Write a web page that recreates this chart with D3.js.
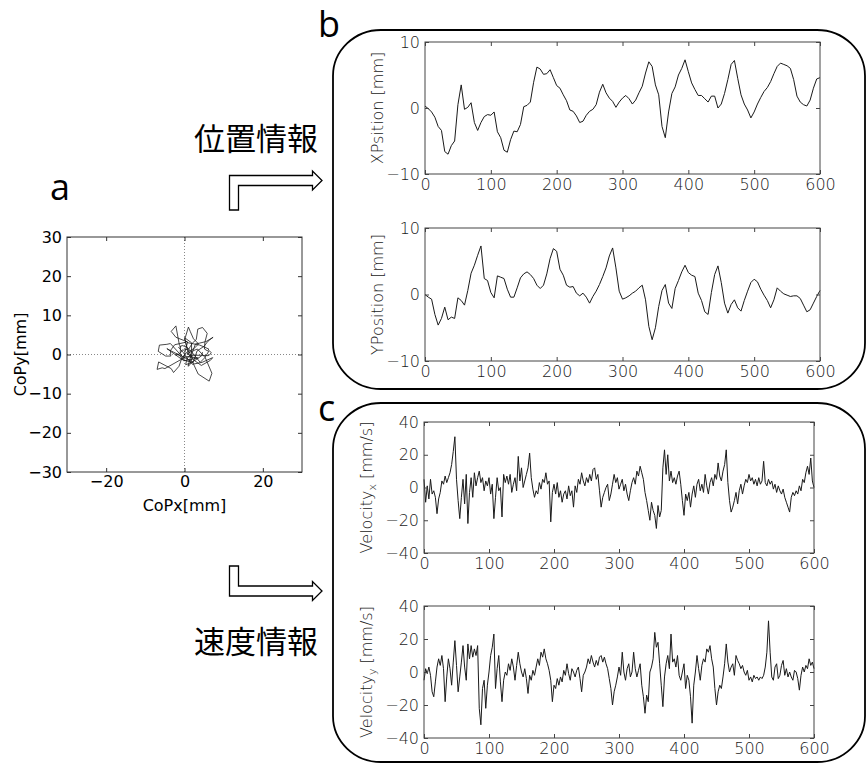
<!DOCTYPE html>
<html>
<head>
<meta charset="utf-8">
<script src="https://cdn.jsdelivr.net/npm/d3@7"></script>
<style>
  html, body { margin: 0; padding: 0; background: #fff; }
  svg { display: block; }
</style>
</head>
<body>
<svg id="fig" width="867" height="763"></svg>
<script>
// ---- tick values ----
const timeTicks = [0, 100, 200, 300, 400, 500, 600];
const posTicks = [-10, 0, 10];
const velTicks = [-40, -20, 0, 20, 40];
const copTicksX = [-20, 0, 20];
const copTicksY = [-30, -20, -10, 0, 10, 20, 30];

// ---- sampling interval of each series (s) ----
const posStep = 5;
const velStep = 2.5;

// ---- centre-of-pressure position, x (mm), one value every 5 s ----
const xPosition = [
  0.3, -0.1, -0.6, -1.4, -2.8, -3.4, -6.6, -7.0, -5.7, -5.0,
  0.5, 3.5, -0.2, 0.1, 0.8, -2.2, -3.4, -2.2, -1.3, -1.0,
  -1.1, -0.6, -3.6, -4.5, -6.4, -6.7, -4.8, -3.5, -3.6, -2.5,
  0.2, 0.4, 0.9, 3.9, 6.2, 5.9, 5.1, 5.2, 5.8, 4.6,
  3.4, 3.0, 2.0, 1.1, -0.3, -0.5, -1.2, -2.2, -2.0, -1.1,
  -0.5, -0.2, 0.5, 2.4, 3.6, 2.3, 1.5, 1.0, 0.1, 0.9,
  1.5, 1.9, 1.4, 0.6, 1.2, 2.3, 3.3, 5.3, 7.0, 6.3,
  3.5, 2.0, -2.8, -4.5, -0.6, 2.2, 3.2, 5.0, 6.0, 7.3,
  5.5, 3.8, 2.8, 1.9, 1.9, 1.4, 0.9, 1.8, 1.8, 0.0,
  0.6, 2.2, 4.3, 6.6, 7.2, 4.5, 2.0, 0.6, -0.3, -1.5,
  -0.6, 0.6, 1.6, 2.5, 3.1, 4.0, 5.2, 6.3, 6.8, 6.6,
  6.4, 6.0, 4.3, 1.8, 0.9, 0.5, 0.3, 1.2, 3.0, 4.4,
  4.6
];

// ---- centre-of-pressure position, y (mm), one value every 5 s ----
const yPosition = [
  0.0, -0.4, -0.7, -3.0, -4.6, -3.6, -1.9, -3.8, -3.4, -3.6,
  -0.5, -0.9, -1.6, 0.6, 3.2, 4.4, 5.9, 7.3, 2.4, 2.1,
  0.3, -0.5, 2.8, 2.6, 2.4, 0.8, -0.4, -0.4, 1.0, 2.5,
  3.1, 3.4, 3.0, 2.4, 1.4, 0.9, 1.4, 3.1, 5.4, 6.9,
  6.5, 3.8, 2.9, 1.4, 1.1, 1.2, 0.2, -0.2, 0.2, -0.4,
  -1.3, -0.3, 0.5, 1.5, 2.7, 4.0, 5.8, 7.0, 4.0, 0.5,
  -0.7, -0.5, -0.2, 0.2, 0.5, 1.0, 1.4, -0.8, -4.8, -6.8,
  -5.0, -1.8, 0.6, 1.5, -1.3, -2.1, 0.9, 2.1, 3.4, 4.4,
  3.3, 2.9, 2.7, 0.2, -0.9, -2.6, -3.0, 0.3, 3.0, 4.3,
  1.8, -1.3, -2.8, -1.5, -0.8, -2.0, -2.5, -0.9, 0.5, 1.8,
  2.3, 1.9, 0.8, -0.1, -0.9, -2.0, -0.8, 1.0, 0.5, 0.1,
  -0.1, -0.3, -0.2, -0.2, -0.6, -1.6, -2.6, -2.3, -1.3, -0.3,
  0.6
];

// ---- velocity, x (mm/s), one value every 2.5 s ----
const velocityX = [
  5, -9, 1, -7, 5, -4, -2, -6, -16, -7,
  -3, 4, 2, 7, 3, 6, 9, 14, 22, 31,
  5, -8, -19, -6, 5, -10, 8, -22, -3, 6,
  -6, 9, 1, 6, 10, 3, 6, -2, 4, 1,
  6, -4, 2, -19, -6, 6, -2, 0, -18, 8,
  3, 7, 2, 8, -3, 2, 6, -2, 19, 4,
  12, 0, 4, 8, 12, 21, 6, -1, -6, -2,
  -4, 3, -1, 5, 3, 9, 2, 4, -21, -3,
  2, -4, 3, -6, -2, -9, -4, -2, -7, 1,
  -5, -2, -12, 1, -3, 5, 2, 9, 4, 1,
  6, 3, 8, 4, 11, 12, 5, 8, -2, -12,
  -6, -3, 0, 2, -8, -4, 2, 8, 3, 6,
  -1, 2, 5, -2, 2, -4, -8, -2, 3, 6,
  2, 10, 7, 13, 9, 5, -3, -8, -14, -20,
  -9, -14, -17, -25, -11, -18, -14, 12, 23, 8,
  20, 4, 10, 3, 6, 2, 7, 10, 2, -8,
  -17, -4, -8, -3, -12, -4, 1, -6, 2, 5,
  -2, 2, -3, 8, 1, -4, 3, 6, 1, 8,
  5, 15, 7, 4, 10, 14, 23, 3, -8, -15,
  -12, -8, -3, -10, -2, 2, -4, 1, 5, 3,
  8, 4, 6, 2, 5, 1, 6, 2, 4, 16,
  3, 1, 5, 2, 4, -1, 2, -3, 1, -2,
  -4, -1, -6, -9, -12, -15, -6, -3, -5, -2,
  -4, 1, -2, 5, 3, 9, 13, 8, 18, 4,
  0
];

// ---- velocity, y (mm/s), one value every 2.5 s ----
const velocityY = [
  -5, 2, -1, 3, -2, -12, -15, -6, 3, 8,
  4, 10, 2, -18, -3, 8, 2, -8, 6, 19,
  4, -12, -3, 6, 16, 3, -5, 17, 8, 16,
  9, 14, 10, 16, -22, -32, -10, -5, -22, -8,
  0, 10, 15, 23, -10, 2, 10, -6, -18, -5,
  0, -2, 5, 1, 8, 3, -5, 4, 12, 5,
  0, -3, 2, -4, -13, -2, -5, 1, -2, 3,
  8, 4, 12, 9, 14, 8, 5, 1, -5, -18,
  -8, -10, -4, -8, -3, -6, 1, -2, 5, -1,
  -5, 2, 0, -3, 1, 3, -4, -12, -2, 0,
  3, 8, 5, 10, 6, 3, 7, 4, 9, 10,
  6, 9, 5, 2, -4, -10, -20, -12, -8, -3,
  3, -2, 12, 0, -5, 2, 5, -3, 0, 12,
  2, -3, 1, 5, -8, -15, -25, -14, -18, 0,
  3, 8, 24, 15, 18, 5, -8, -21, -3, 5,
  10, 2, 23, 6, 8, 3, 10, -2, -5, 0,
  5, -10, -2, -5, -15, -31, -8, 0, 10, 2,
  -5, 4, 8, 6, 14, 12, 16, 8, 3, -10,
  -20, -12, -8, -10, -3, 5, 17, 6, 0, 3,
  5, -2, 10, 7, 5, 2, 4, 0, -2, 1,
  -5, -3, -6, -2, -4, -3, -5, -3, -4, -2,
  3, 12, 31, 12, -3, -5, 3, 5, -4, -2,
  4, 7, -2, 2, -3, 0, -3, -5, 1, 0,
  -4, -11, -2, 3, 0, 4, 2, 8, 4, 6,
  2
];

const svg = d3.select("#fig");
const tickFont = "'DejaVu Sans', 'Liberation Sans', sans-serif";
const headFont = "'Open Sans', 'Noto Sans', sans-serif";
const cjkFont = "'Noto Sans CJK JP', 'Noto Sans CJK SC', sans-serif";

// Box with inward ticks on all four sides, labels on left and bottom only.
function framedAxes(g, x, y, xTicks, yTicks, opts) {
  const [x0, x1] = x.range();
  const [y1, y0] = y.range();
  const axes = [
    g.append("g").attr("transform", `translate(0,${y1})`)
      .call(d3.axisBottom(x).tickValues(xTicks).tickSizeInner(-4).tickSizeOuter(0).tickPadding(opts.padX)),
    g.append("g").attr("transform", `translate(0,${y0})`)
      .call(d3.axisTop(x).tickValues(xTicks).tickSizeInner(-4).tickSizeOuter(0).tickFormat("")),
    g.append("g").attr("transform", `translate(${x0},0)`)
      .call(d3.axisLeft(y).tickValues(yTicks).tickSizeInner(-4).tickSizeOuter(0).tickPadding(opts.padY)),
    g.append("g").attr("transform", `translate(${x1},0)`)
      .call(d3.axisRight(y).tickValues(yTicks).tickSizeInner(-4).tickSizeOuter(0).tickFormat(""))
  ];
  axes.forEach(a => {
    a.select(".domain").remove();
    a.attr("font-family", opts.font).attr("font-size", opts.size).attr("font-weight", opts.weight);
    a.selectAll(".tick line").attr("stroke", opts.stroke).attr("stroke-width", 1);
    a.selectAll(".tick text").attr("fill", opts.textFill);
  });
  g.append("rect")
    .attr("x", x0).attr("y", y0)
    .attr("width", x1 - x0).attr("height", y1 - y0)
    .attr("fill", "none").attr("stroke", opts.stroke).attr("stroke-width", 1);
}

// One time-series plot (position or velocity).
function tracePanel(cfg) {
  const g = svg.append("g");
  const x = d3.scaleLinear().domain([0, 600]).range([cfg.left, cfg.left + cfg.width]);
  const y = d3.scaleLinear().domain(cfg.yDomain).range([cfg.top + cfg.height, cfg.top]);

  g.append("path")
    .datum(cfg.values)
    .attr("fill", "none")
    .attr("stroke", "#1a1a1a")
    .attr("stroke-width", 1)
    .attr("stroke-linejoin", "round")
    .attr("d", d3.line().x((d, i) => x(i * cfg.step)).y(d => y(d)));

  framedAxes(g, x, y, timeTicks, cfg.yTicks, {
    padX: 5, padY: 5, font: tickFont, size: 16, weight: 200, stroke: "#444", textFill: "#1a1a1a"
  });

  const lab = g.append("text")
    .attr("transform", `translate(${cfg.labelX},${cfg.top + cfg.height / 2}) rotate(-90)`)
    .attr("text-anchor", "middle")
    .attr("font-family", tickFont)
    .attr("font-weight", 200)
    .attr("font-size", 16)
    .attr("fill", "#1a1a1a");
  lab.append("tspan").text(cfg.label);
  if (cfg.sub) {
    lab.append("tspan").attr("font-size", 11).attr("dy", 4).text(cfg.sub);
    lab.append("tspan").attr("dy", -4).text(" " + cfg.unit);
  }
}

// ---- rounded frames around groups b and c ----
svg.append("rect").attr("x", 333).attr("y", 30).attr("width", 532).attr("height", 359)
  .attr("rx", 48).attr("ry", 46)
  .attr("fill", "none").attr("stroke", "#000").attr("stroke-width", 1.8);
svg.append("rect").attr("x", 333).attr("y", 403).attr("width", 532).attr("height", 359)
  .attr("rx", 48).attr("ry", 46)
  .attr("fill", "none").attr("stroke", "#000").attr("stroke-width", 1.8);

// ---- b: position traces ----
tracePanel({ left: 425, top: 42, width: 395, height: 132, yDomain: [-10, 10], yTicks: posTicks,
  values: xPosition, step: posStep, label: "XPsition [mm]", labelX: 383 });
tracePanel({ left: 425, top: 228, width: 395, height: 133, yDomain: [-10, 10], yTicks: posTicks,
  values: yPosition, step: posStep, label: "YPosition [mm]", labelX: 383 });

// ---- c: velocity traces ----
tracePanel({ left: 424, top: 422, width: 390, height: 131, yDomain: [-40, 40], yTicks: velTicks,
  values: velocityX, step: velStep, label: "Velocity", sub: "x", unit: "[mm/s]", labelX: 372 });
tracePanel({ left: 424, top: 606, width: 390, height: 132, yDomain: [-40, 40], yTicks: velTicks,
  values: velocityY, step: velStep, label: "Velocity", sub: "y", unit: "[mm/s]", labelX: 372 });

// ---- a: stabilogram (CoPx vs CoPy) ----
{
  const g = svg.append("g");
  const x = d3.scaleLinear().domain([-30, 30]).range([67, 302]);
  const y = d3.scaleLinear().domain([-30, 30]).range([472, 237]);

  // dotted zero lines
  g.append("line").attr("x1", x(0)).attr("x2", x(0)).attr("y1", y(30)).attr("y2", y(-30))
    .attr("stroke", "#888").attr("stroke-dasharray", "1,2");
  g.append("line").attr("x1", x(-30)).attr("x2", x(30)).attr("y1", y(0)).attr("y2", y(0))
    .attr("stroke", "#888").attr("stroke-dasharray", "1,2");

  g.append("path")
    .datum(d3.zip(xPosition, yPosition))
    .attr("fill", "none")
    .attr("stroke", "#1a1a1a")
    .attr("stroke-width", 0.8)
    .attr("stroke-linejoin", "round")
    .attr("d", d3.line().x(d => x(d[0])).y(d => y(d[1])));

  framedAxes(g, x, y, copTicksX, copTicksY, {
    padX: 4, padY: 5, font: tickFont, size: 16, weight: 400, stroke: "#333", textFill: "#000"
  });

  g.append("text").attr("x", x(0)).attr("y", 511)
    .attr("text-anchor", "middle").attr("font-family", tickFont).attr("font-size", 16)
    .text("CoPx[mm]");
  g.append("text").attr("transform", `translate(26,${y(0)}) rotate(-90)`)
    .attr("text-anchor", "middle").attr("font-family", tickFont).attr("font-size", 16)
    .text("CoPy[mm]");
}

// ---- panel letters ----
[["a", 50, 200], ["b", 318, 37], ["c", 318, 421]].forEach(([t, px, py]) => {
  svg.append("text").attr("x", px).attr("y", py)
    .attr("font-family", headFont).attr("font-size", 36).attr("fill", "#000").text(t);
});

// ---- outline arrows and captions ----
const arrowLine = d3.line();
// up-then-right arrow pointing to b
svg.append("path")
  .attr("d", arrowLine([[229.5, 210], [229.5, 175.5], [312.5, 175.5], [312.5, 171], [322, 180.5],
    [312.5, 190], [312.5, 185.5], [238.5, 185.5], [238.5, 210]]) + "Z")
  .attr("fill", "#fff").attr("stroke", "#000").attr("stroke-width", 1.3);
// down-then-right arrow pointing to c
svg.append("path")
  .attr("d", arrowLine([[229.5, 566], [238.5, 566], [238.5, 586], [312.5, 586], [312.5, 581.5],
    [322, 591], [312.5, 600.5], [312.5, 596], [229.5, 596]]) + "Z")
  .attr("fill", "#fff").attr("stroke", "#000").attr("stroke-width", 1.3);

svg.append("text").attr("x", 194).attr("y", 150)
  .attr("font-family", cjkFont).attr("font-size", 31).attr("fill", "#000").text("位置情報");
svg.append("text").attr("x", 194).attr("y", 653)
  .attr("font-family", cjkFont).attr("font-size", 31).attr("fill", "#000").text("速度情報");
</script>
</body>
</html>
